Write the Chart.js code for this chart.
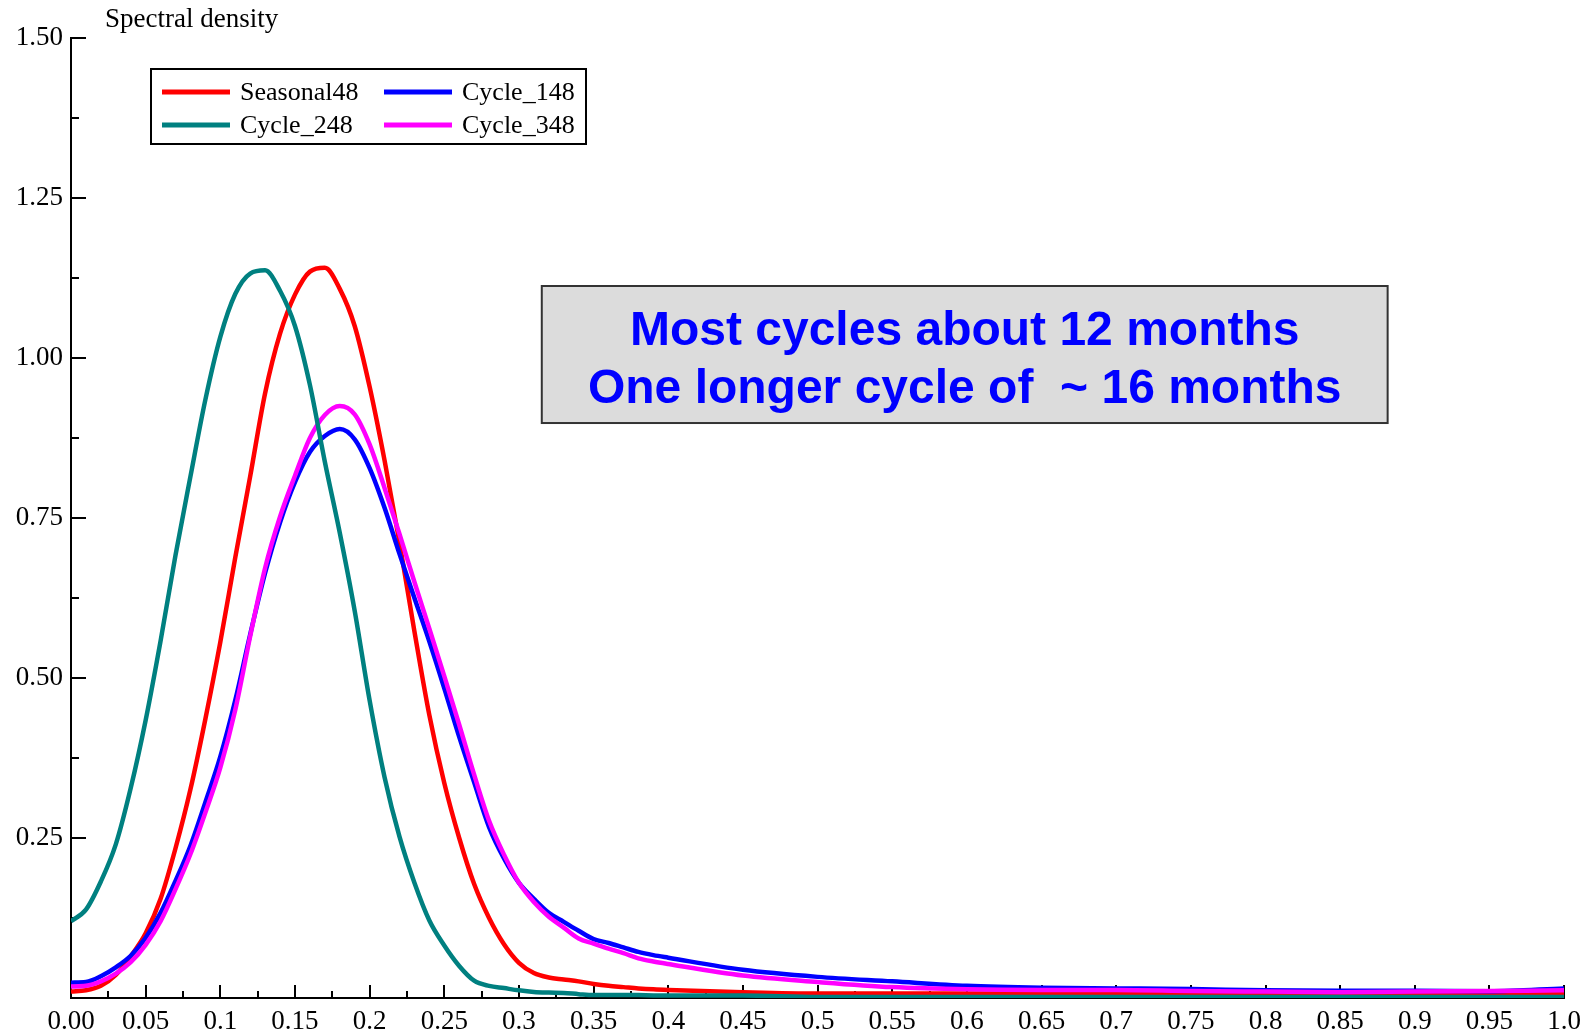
<!DOCTYPE html>
<html>
<head>
<meta charset="utf-8">
<script src="https://cdn.jsdelivr.net/npm/chart.js@4.4.0/dist/chart.umd.min.js"></script>
<style>
  html, body { margin: 0; padding: 0; background: #fff; overflow: hidden; }
  canvas { display: block; }
</style>
</head>
<body>
<canvas id="myChart" width="1589" height="1035"></canvas>
<script>
// frequency grid (fine near the peaks, coarse on the flat tail)
var freq = [0, 0.01, 0.02, 0.03, 0.04, 0.05, 0.06, 0.07, 0.08, 0.09,
            0.10, 0.11, 0.12, 0.13, 0.14, 0.15, 0.16, 0.17, 0.18, 0.19,
            0.20, 0.21, 0.22, 0.23, 0.24, 0.25, 0.26, 0.27, 0.28, 0.29,
            0.30, 0.31, 0.32, 0.33, 0.34, 0.35, 0.36, 0.37, 0.38, 0.39,
            0.40, 0.45, 0.50, 0.55, 0.60, 0.65, 0.70, 0.75, 0.80, 0.85,
            0.90, 0.95, 1.00];

var seasonal48 = [0.010, 0.012, 0.019, 0.036, 0.065, 0.101, 0.155, 0.234, 0.326, 0.436,
                  0.556, 0.688, 0.815, 0.945, 1.038, 1.099, 1.135, 1.141, 1.108, 1.050,
                  0.955, 0.840, 0.712, 0.573, 0.442, 0.336, 0.250, 0.178, 0.125, 0.084,
                  0.055, 0.039, 0.032, 0.029, 0.026, 0.022, 0.019, 0.017, 0.015, 0.0135,
                  0.0125, 0.009, 0.007, 0.007, 0.007, 0.007, 0.007, 0.007, 0.007, 0.007,
                  0.007, 0.007, 0.007];

var cycle148 = [0.024, 0.025, 0.034, 0.048, 0.066, 0.094, 0.133, 0.183, 0.238, 0.306,
                0.377, 0.465, 0.568, 0.664, 0.743, 0.806, 0.853, 0.878, 0.889, 0.873,
                0.828, 0.766, 0.694, 0.625, 0.557, 0.484, 0.408, 0.337, 0.267, 0.218,
                0.180, 0.155, 0.133, 0.119, 0.105, 0.092, 0.086, 0.079, 0.072, 0.067,
                0.063, 0.044, 0.033, 0.026, 0.019, 0.016, 0.015, 0.014, 0.012, 0.0115,
                0.0115, 0.0105, 0.015];

var cycle248 = [0.120, 0.138, 0.182, 0.240, 0.328, 0.434, 0.558, 0.692, 0.815, 0.935,
                1.033, 1.100, 1.132, 1.137, 1.105, 1.050, 0.958, 0.838, 0.727, 0.605,
                0.465, 0.345, 0.252, 0.180, 0.121, 0.082, 0.050, 0.027, 0.019, 0.0155,
                0.012, 0.0095, 0.0085, 0.008, 0.006, 0.0045, 0.0045, 0.0045, 0.0045, 0.004,
                0.004, 0.004, 0.0015, 0.0015, 0.0015, 0.0015, 0.0015, 0.0015, 0.0015, 0.0015,
                0.0015, 0.0015, 0.0015];

var cycle348 = [0.018, 0.019, 0.026, 0.038, 0.056, 0.083, 0.120, 0.170, 0.225, 0.290,
                0.360, 0.450, 0.565, 0.672, 0.752, 0.816, 0.875, 0.911, 0.925, 0.912,
                0.865, 0.797, 0.725, 0.650, 0.577, 0.503, 0.427, 0.349, 0.277, 0.224,
                0.180, 0.150, 0.127, 0.110, 0.093, 0.085, 0.077, 0.070, 0.062, 0.057,
                0.053, 0.035, 0.025, 0.017, 0.0135, 0.0125, 0.0125, 0.011, 0.010, 0.009,
                0.010, 0.011, 0.012];

var seriesNames = ['Seasonal48', 'Cycle_148', 'Cycle_248', 'Cycle_348'];
var seriesColors = ['#ff0000', '#0000ff', '#008080', '#ff00ff'];
var seriesValues = [seasonal48, cycle148, cycle248, cycle348];
var drawOrder = [3, 2, 0, 1];

var xTickLabels = ['0.00', '0.05', '0.1', '0.15', '0.2', '0.25', '0.3', '0.35', '0.4', '0.45',
                   '0.5', '0.55', '0.6', '0.65', '0.7', '0.75', '0.8', '0.85', '0.9', '0.95', '1.0'];
var yTickLabels = ['', '0.25', '0.50', '0.75', '1.00', '1.25', '1.50'];

var yTitle = 'Spectral density';
var noteLines = ['Most cycles about 12 months', 'One longer cycle of  ~ 16 months'];

var serif = '"Liberation Serif", "Times New Roman", serif';

var datasets = seriesNames.map(function (name, k) {
  return {
    label: name,
    data: freq.map(function (f, i) { return { x: f, y: seriesValues[k][i] }; }),
    borderColor: seriesColors[k],
    backgroundColor: seriesColors[k],
    borderWidth: 4.5,
    pointRadius: 0,
    cubicInterpolationMode: 'monotone',
    order: drawOrder[k]
  };
});

// short tick marks pointing into the plot, major + minor
var innerTicks = {
  id: 'innerTicks',
  beforeDatasetsDraw: function (chart) {
    var ctx = chart.ctx, xs = chart.scales.x, ys = chart.scales.y, a = chart.chartArea;
    ctx.save();
    ctx.strokeStyle = '#000';
    ctx.lineWidth = 2;
    ctx.beginPath();
    for (var i = 0; i <= 40; i++) {
      var px = Math.round(xs.getPixelForValue(i * 0.025));
      var len = i % 2 === 0 ? 13 : 7;
      ctx.moveTo(px, a.bottom);
      ctx.lineTo(px, a.bottom - len);
    }
    for (var j = 0; j <= 12; j++) {
      var py = Math.round(ys.getPixelForValue(j * 0.125));
      var l2 = j % 2 === 0 ? 15 : 8;
      ctx.moveTo(a.left, py);
      ctx.lineTo(a.left + l2, py);
    }
    ctx.stroke();
    ctx.restore();
  }
};

// axis title, boxed legend and the grey note
var extras = {
  id: 'extras',
  afterDraw: function (chart) {
    var ctx = chart.ctx, xs = chart.scales.x, ys = chart.scales.y, a = chart.chartArea;
    ctx.save();

    ctx.fillStyle = '#000';
    ctx.font = '27px ' + serif;
    ctx.textBaseline = 'middle';
    ctx.textAlign = 'left';
    ctx.fillText(yTitle, a.left + 34, 20);

    // legend
    var lx = a.left + 80, ly = a.top + 31;
    ctx.fillStyle = '#fff';
    ctx.fillRect(lx, ly, 435, 75);
    ctx.strokeStyle = '#000';
    ctx.lineWidth = 2;
    ctx.strokeRect(lx, ly, 435, 75);
    var cols = [lx + 11, lx + 233];
    var rows = [ly + 23, ly + 56];
    chart.data.datasets.forEach(function (ds, k) {
      var cx = cols[k % 2], cy = rows[Math.floor(k / 2)];
      ctx.strokeStyle = ds.borderColor;
      ctx.lineWidth = 5;
      ctx.beginPath();
      ctx.moveTo(cx, cy);
      ctx.lineTo(cx + 68, cy);
      ctx.stroke();
      ctx.fillStyle = '#000';
      ctx.font = '26px ' + serif;
      ctx.textBaseline = 'middle';
      ctx.fillText(ds.label, cx + 78, cy + 1);
    });

    // note box
    var bx0 = xs.getPixelForValue(0.3153), bx1 = xs.getPixelForValue(0.8818);
    var by0 = ys.getPixelForValue(1.1125), by1 = ys.getPixelForValue(0.8984);
    ctx.fillStyle = '#dcdcdc';
    ctx.fillRect(bx0, by0, bx1 - bx0, by1 - by0);
    ctx.strokeStyle = '#333';
    ctx.lineWidth = 2;
    ctx.strokeRect(bx0, by0, bx1 - bx0, by1 - by0);
    ctx.fillStyle = '#0000ff';
    ctx.font = 'bold 48px "Liberation Sans", Arial, sans-serif';
    ctx.textAlign = 'center';
    ctx.textBaseline = 'alphabetic';
    var mid = (bx0 + bx1) / 2;
    ctx.fillText(noteLines[0], mid, by0 + 59);
    ctx.fillText(noteLines[1], mid, by0 + 117);

    ctx.restore();
  }
};

var ctx = document.getElementById('myChart').getContext('2d');
var chart = new Chart(ctx, {
  type: 'line',
  data: { datasets: datasets },
  plugins: [innerTicks, extras],
  options: {
    responsive: false,
    animation: false,
    layout: { padding: { top: 38, right: 21, left: 0, bottom: 0 } },
    plugins: {
      legend: { display: false },
      tooltip: { enabled: false }
    },
    scales: {
      x: {
        type: 'linear',
        min: 0,
        max: 1,
        afterFit: function (scale) { scale.height = 37; },
        grid: { display: true, drawOnChartArea: false, drawTicks: false },
        border: { display: true, color: '#000', width: 2 },
        ticks: {
          stepSize: 0.05,
          autoSkip: false,
          maxRotation: 0,
          padding: 8,
          color: '#000',
          font: { family: serif, size: 27 },
          callback: function (v, i) { return xTickLabels[i]; }
        }
      },
      y: {
        min: 0,
        max: 1.5,
        afterFit: function (scale) { scale.width = 71; },
        grid: { display: true, drawOnChartArea: false, drawTicks: false },
        border: { display: true, color: '#000', width: 2 },
        ticks: {
          stepSize: 0.25,
          padding: 8,
          color: '#000',
          font: { family: serif, size: 27 },
          callback: function (v, i) { return yTickLabels[i]; }
        }
      }
    }
  }
});
</script>
</body>
</html>
